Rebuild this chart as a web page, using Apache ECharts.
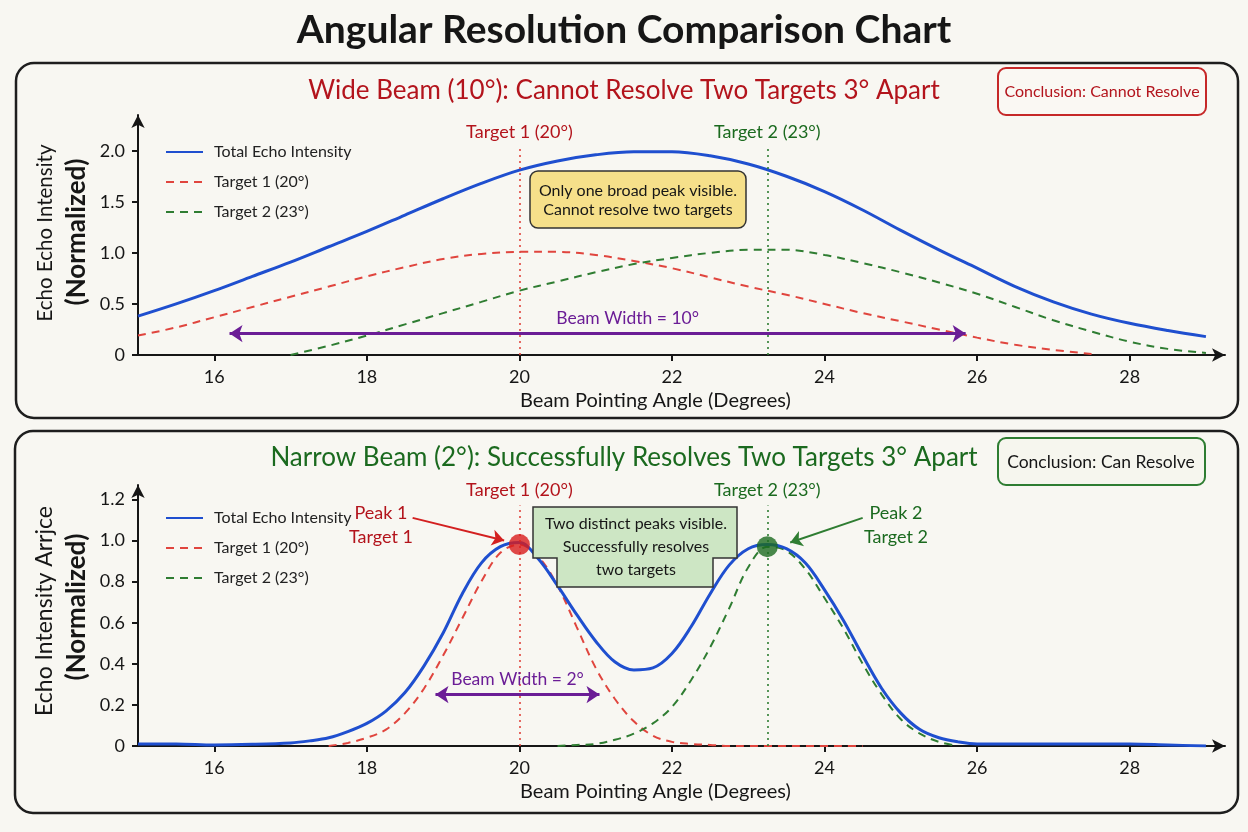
<!DOCTYPE html>
<html>
<head>
<meta charset="utf-8">
<title>Angular Resolution Comparison Chart</title>
<script src="https://cdn.jsdelivr.net/npm/echarts@6/dist/echarts.min.js"></script>
<style>
  html, body { margin: 0; padding: 0; background: #f8f7f2; }
  #chart { width: 1248px; height: 832px; }
</style>
</head>
<body>
<div id="chart"></div>
<script>
// ---- data ----
// wide beam (10 deg) panel
const wideAngles   = [15, 15.5, 16, 16.5, 17, 17.5, 18, 18.5, 19, 19.5, 20, 20.5, 21, 21.5, 22, 22.5, 23, 23.5, 24, 24.5, 25, 25.5, 26, 26.5, 27, 27.5, 28, 28.5, 29];
const wideTotal    = [0.38, 0.50, 0.63, 0.77, 0.91, 1.06, 1.21, 1.37, 1.53, 1.68, 1.81, 1.90, 1.96, 1.99, 1.99, 1.95, 1.87, 1.75, 1.60, 1.42, 1.22, 1.03, 0.85, 0.67, 0.52, 0.40, 0.31, 0.24, 0.18];
const wideTarget1  = [0.19, 0.27, 0.37, 0.47, 0.57, 0.67, 0.77, 0.86, 0.94, 0.99, 1.01, 1.01, 0.98, 0.92, 0.85, 0.76, 0.67, 0.59, 0.50, 0.41, 0.33, 0.25, 0.17, 0.10, 0.05, 0.01, null, null, null];
const wideTarget2  = [null, null, null, null, 0.0, 0.09, 0.19, 0.30, 0.41, 0.52, 0.63, 0.72, 0.81, 0.89, 0.95, 1.00, 1.03, 1.03, 0.98, 0.90, 0.81, 0.71, 0.60, 0.47, 0.34, 0.23, 0.13, 0.06, 0.02];

// narrow beam (2 deg) panel
const narrowAngles  = [15, 15.5, 16, 16.5, 17, 17.25, 17.5, 17.75, 18, 18.25, 18.5, 18.75, 19, 19.25, 19.5, 19.75, 20, 20.25, 20.5, 20.75, 21, 21.25, 21.5, 21.75, 22, 22.25, 22.5, 22.75, 23, 23.25, 23.5, 23.75, 24, 24.25, 24.5, 24.75, 25, 25.25, 25.5, 25.75, 26, 26.5, 27, 27.5, 28, 28.5, 29];
const narrowTotal   = [0.01, 0.01, 0.005, 0.008, 0.015, 0.025, 0.04, 0.07, 0.11, 0.17, 0.26, 0.39, 0.55, 0.74, 0.89, 0.97, 0.99, 0.91, 0.78, 0.64, 0.51, 0.41, 0.37, 0.38, 0.45, 0.58, 0.74, 0.88, 0.96, 0.98, 0.96, 0.89, 0.76, 0.61, 0.44, 0.28, 0.16, 0.08, 0.04, 0.02, 0.01, 0.01, 0.01, 0.01, 0.01, 0.005, 0.0];
const narrowTarget1 = [null, null, null, null, null, null, 0.0, 0.015, 0.04, 0.08, 0.16, 0.28, 0.44, 0.62, 0.80, 0.94, 0.98, 0.92, 0.78, 0.58, 0.38, 0.23, 0.12, 0.05, 0.02, 0.01, 0.005, 0, 0, 0, 0, 0, 0, 0, 0, null, null, null, null, null, null, null, null, null, null, null, null];
const narrowTarget2 = [null, null, null, null, null, null, null, null, null, null, null, null, null, null, null, null, null, null, 0.0, 0.005, 0.01, 0.03, 0.06, 0.11, 0.19, 0.32, 0.48, 0.67, 0.87, 0.97, 0.95, 0.86, 0.72, 0.57, 0.40, 0.25, 0.13, 0.06, 0.02, 0.0, null, null, null, null, null, null, null];

// axis ticks
const xTicks = [16, 18, 20, 22, 24, 26, 28];
const wideYTicks = [0, 0.5, 1.0, 1.5, 2.0];
const narrowYTicks = [0, 0.2, 0.4, 0.6, 0.8, 1.0, 1.2];

// targets and detected peaks
const target1Angle = 20;
const target2Angle = 23.25;
const peak1 = [20, 0.98];
const peak2 = [23.25, 0.97];

const FONT = "Lato, 'Open Sans', sans-serif";
const BLUE = '#1f4fcf';
const RED = '#e0453e';
const GREEN = '#2f7d32';
const DARKRED = '#b3141c';
const DARKGREEN = '#1b6a1f';
const PURPLE = '#6b1d96';
const INK = '#161616';

const pts = (xs, ys) => xs.map((x, i) => [x, ys[i]]).filter(p => p[1] !== null);

const chart = echarts.init(document.getElementById('chart'));

const xAxisBase = (gridIndex) => ({
  type: 'value', gridIndex: gridIndex, min: 15, max: 29.25,
  name: 'Beam Pointing Angle (Degrees)', nameLocation: 'middle', nameGap: 36,
  nameTextStyle: { fontSize: 20, color: INK, fontFamily: FONT, padding: [0, 52, 0, 0] },
  axisLine: { lineStyle: { color: INK, width: 2 }, symbol: ['none', 'arrow'], symbolSize: [10, 13] },
  axisTick: { length: 6, lineStyle: { color: INK, width: 2 }, customValues: xTicks },
  axisLabel: { fontSize: 18, color: INK, fontFamily: FONT, margin: 13, customValues: xTicks },
  splitLine: { show: false }
});

const yAxisBase = (gridIndex, max, ticks) => ({
  type: 'value', gridIndex: gridIndex, min: 0, max: max,
  axisLine: { show: true, lineStyle: { color: INK, width: 2 }, symbol: ['none', 'arrow'], symbolSize: [10, 13] },
  axisTick: { show: true, length: 6, lineStyle: { color: INK, width: 2 }, customValues: ticks },
  axisLabel: { fontSize: 18, color: INK, fontFamily: FONT, margin: 13, customValues: ticks,
    formatter: v => (v === 0 ? '0' : v.toFixed(1)) },
  splitLine: { show: false }
});

const targetLine = (angle, top, color, labelColor, text) => [
  { coord: [angle, 0], symbol: 'none',
    lineStyle: { color: color, type: [2, 4], width: 1.6 },
    label: { show: true, position: 'end', distance: 6, formatter: text, color: labelColor, fontSize: 18, fontFamily: FONT } },
  { coord: [angle, top], symbol: 'none' }
];

const arrowLine = (from, to, color, both, label) => [
  { coord: from, symbol: both ? 'arrow' : 'none',
    lineStyle: { color: color, type: 'solid', width: both ? 3 : 2 },
    label: label ? { show: true, position: 'insideMiddleTop', distance: 6, formatter: label.text,
      offset: label.offset || [0, 0], color: PURPLE, fontSize: 17.5, fontFamily: FONT } : { show: false } },
  { coord: to, symbol: 'arrow' }
];

const legendNames = ['Total Echo Intensity', 'Target 1 (20°)', 'Target 2 (23°)'];
const legendBase = (top) => ({
  data: legendNames, orient: 'vertical', left: 160, top: top,
  itemWidth: 37, itemHeight: 14, itemGap: 12,
  itemStyle: { opacity: 0 },
  textStyle: { fontSize: 16, color: '#222', fontFamily: FONT, lineHeight: 18, padding: [0, 0, 0, 6] },
  selectedMode: false
});

const lineSeries = (name, axis, xs, ys, color, dashed, extra) => Object.assign({
  name: name, type: 'line', xAxisIndex: axis, yAxisIndex: axis, smooth: 0.35, symbol: 'none',
  data: pts(xs, ys), itemStyle: { color: color }, z: dashed ? 3 : 4,
  lineStyle: dashed ? { color: color, width: 2, type: [8, 6] } : { color: color, width: 3 }
}, extra || {});

const option = {
  backgroundColor: '#f8f7f2',
  animation: false,
  title: [
    { text: 'Angular Resolution Comparison Chart', left: 'center', top: 6,
      textStyle: { fontSize: 39, fontWeight: 'bold', color: INK, fontFamily: FONT } },
    { text: 'Wide Beam (10°): Cannot Resolve Two Targets 3° Apart', left: 'center', top: 73,
      textStyle: { fontSize: 26, fontWeight: 'normal', color: DARKRED, fontFamily: FONT } },
    { text: 'Narrow Beam (2°): Successfully Resolves Two Targets 3° Apart', left: 'center', top: 440,
      textStyle: { fontSize: 26, fontWeight: 'normal', color: DARKGREEN, fontFamily: FONT } }
  ],
  legend: [legendBase(138), legendBase(504)],
  grid: [
    { left: 138, top: 115, width: 1087, height: 240 },
    { left: 138, top: 485, width: 1087, height: 261 }
  ],
  xAxis: [xAxisBase(0), xAxisBase(1)],
  yAxis: [yAxisBase(0, 2.35, wideYTicks), yAxisBase(1, 1.27, narrowYTicks)],
  series: [
    lineSeries('Total Echo Intensity', 0, wideAngles, wideTotal, BLUE, false, {
      markLine: { silent: true, symbolSize: 12, data: [
        targetLine(target1Angle, 2.03, RED, DARKRED, 'Target 1 (20°)'),
        targetLine(target2Angle, 2.03, GREEN, DARKGREEN, 'Target 2 (23°)')
      ] } }),
    lineSeries('Target 1 (20°)', 0, wideAngles, wideTarget1, RED, true, {
      markLine: { silent: true, symbolSize: 13, data: [
        arrowLine([16.2, 0.21], [25.85, 0.21], PURPLE, true, { text: 'Beam Width = 10°', offset: [30, 0] })
      ] } }),
    lineSeries('Target 2 (23°)', 0, wideAngles, wideTarget2, GREEN, true),

    lineSeries('Total Echo Intensity', 1, narrowAngles, narrowTotal, BLUE, false, {
      markLine: { silent: true, symbolSize: 12, data: [
        targetLine(target1Angle, 1.17, RED, DARKRED, 'Target 1 (20°)'),
        targetLine(target2Angle, 1.17, GREEN, DARKGREEN, 'Target 2 (23°)'),
        arrowLine([18.6, 1.11], [19.8, 1.0], '#d32020', false),
        arrowLine([24.5, 1.11], [23.55, 0.99], GREEN, false)
      ] } }),
    lineSeries('Target 1 (20°)', 1, narrowAngles, narrowTarget1, RED, true, {
      markLine: { silent: true, symbolSize: 13, data: [
        arrowLine([18.9, 0.25], [21.05, 0.25], PURPLE, true, { text: 'Beam Width = 2°' })
      ] } }),
    lineSeries('Target 2 (23°)', 1, narrowAngles, narrowTarget2, GREEN, true),
    { name: 'Peaks', type: 'scatter', xAxisIndex: 1, yAxisIndex: 1, symbolSize: 21, z: 6,
      data: [
        { value: peak1, itemStyle: { color: '#d81b1b' } },
        { value: peak2, itemStyle: { color: '#1b6a1f' } }
      ] }
  ],
  graphic: [
    // panel frames
    { type: 'rect', shape: { x: 16, y: 63, width: 1222, height: 355, r: 18 },
      style: { fill: 'none', stroke: '#1e1e1e', lineWidth: 2.5 }, silent: true },
    { type: 'rect', shape: { x: 15, y: 431, width: 1223, height: 382, r: 18 },
      style: { fill: 'none', stroke: '#1e1e1e', lineWidth: 2.5 }, silent: true },

    // conclusion boxes
    { type: 'rect', shape: { x: 998, y: 68, width: 208, height: 47, r: 8 },
      style: { fill: '#faf8f3', stroke: '#c62828', lineWidth: 2 }, z: 50 },
    { type: 'text', x: 1102, y: 92, z: 51,
      style: { text: 'Conclusion: Cannot Resolve', font: '16px ' + FONT, fill: DARKRED, align: 'center', verticalAlign: 'middle' } },
    { type: 'rect', shape: { x: 998, y: 438, width: 207, height: 47, r: 8 },
      style: { fill: '#f6f6ee', stroke: '#2e7d32', lineWidth: 2 }, z: 50 },
    { type: 'text', x: 1101, y: 462, z: 51,
      style: { text: 'Conclusion: Can Resolve', font: '17.5px ' + FONT, fill: INK, align: 'center', verticalAlign: 'middle' } },

    // y-axis names
    { type: 'text', x: 45, y: 233, rotation: Math.PI / 2,
      style: { text: 'Echo Echo Intensity', font: '20.5px ' + FONT, fill: INK, align: 'center', verticalAlign: 'middle' } },
    { type: 'text', x: 77, y: 232, rotation: Math.PI / 2,
      style: { text: '(Normalized)', font: 'bold 26px ' + FONT, fill: INK, align: 'center', verticalAlign: 'middle' } },
    { type: 'text', x: 45, y: 611, rotation: Math.PI / 2,
      style: { text: 'Echo Intensity Arrjce', font: '23px ' + FONT, fill: INK, align: 'center', verticalAlign: 'middle' } },
    { type: 'text', x: 77, y: 607, rotation: Math.PI / 2,
      style: { text: '(Normalized)', font: 'bold 26px ' + FONT, fill: INK, align: 'center', verticalAlign: 'middle' } },

    // note boxes
    { type: 'rect', shape: { x: 530, y: 171, width: 216, height: 57, r: 8 },
      style: { fill: '#f6e08a', stroke: '#333', lineWidth: 1.5 }, z: 50 },
    { type: 'text', x: 638, y: 200, z: 51,
      style: { text: 'Only one broad peak visible.\nCannot resolve two targets', font: '16px ' + FONT, lineHeight: 19,
        fill: INK, align: 'center', verticalAlign: 'middle' } },
    { type: 'polygon', z: 50,
      shape: { points: [[533, 507], [737, 507], [737, 558], [713, 558], [713, 587], [557, 587], [557, 558], [533, 558]] },
      style: { fill: '#cde6c4', stroke: '#333', lineWidth: 1.5 } },
    { type: 'text', x: 636, y: 547, z: 51,
      style: { text: 'Two distinct peaks visible.\nSuccessfully resolves\ntwo targets', font: '16px ' + FONT, lineHeight: 23,
        fill: INK, align: 'center', verticalAlign: 'middle' } },

    // peak callouts
    { type: 'text', x: 381, y: 525,
      style: { text: 'Peak 1\nTarget 1', font: '18px ' + FONT, lineHeight: 24, fill: DARKRED, align: 'center', verticalAlign: 'middle' } },
    { type: 'text', x: 896, y: 525,
      style: { text: 'Peak 2\nTarget 2', font: '18px ' + FONT, lineHeight: 24, fill: DARKGREEN, align: 'center', verticalAlign: 'middle' } }
  ]
};

chart.setOption(option);
</script>
</body>
</html>
